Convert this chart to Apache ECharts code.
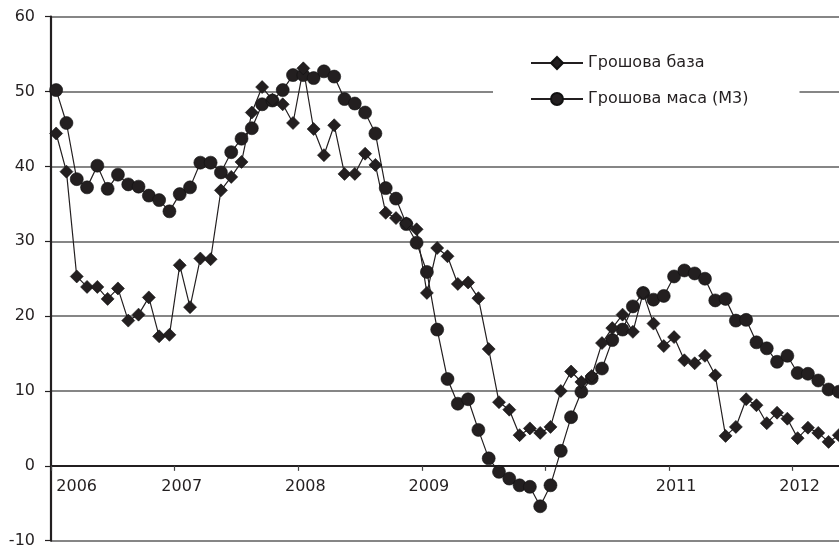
<!DOCTYPE html>
<html>
<head>
<meta charset="utf-8">
<script src="https://cdn.jsdelivr.net/npm/echarts@6/dist/echarts.min.js"></script>
<style>
  html, body { margin: 0; padding: 0; background: #ffffff; }
  #chart { width: 839px; height: 547px; }
</style>
</head>
<body>
<div id="chart"></div>
<script>
// Monthly growth rates, % year on year, January 2006 onwards
const years = [2006, 2007, 2008, 2009, 2010, 2011, 2012];
const yearLabels = ['2006', '2007', '2008', '2009', '', '2011', '2012'];
const seriesNames = ['Грошова база', 'Грошова маса (М3)'];

const monetaryBase = [
  44.4, 39.3, 25.3, 23.9, 23.9, 22.3, 23.7, 19.4, 20.2, 22.5, 17.3, 17.5,
  26.8, 21.2, 27.7, 27.6, 36.8, 38.6, 40.6, 47.2, 50.6, 48.9, 48.3, 45.8,
  53.1, 45.0, 41.5, 45.5, 39.0, 39.0, 41.7, 40.2, 33.8, 33.1, 32.4, 31.6,
  23.1, 29.1, 28.0, 24.3, 24.5, 22.4, 15.6, 8.5, 7.5, 4.1, 5.0, 4.4,
  5.2, 10.0, 12.6, 11.2, 12.0, 16.4, 18.4, 20.2, 17.9, 23.1, 19.0, 16.0,
  17.2, 14.1, 13.7, 14.7, 12.1, 4.0, 5.2, 8.9, 8.1, 5.7, 7.1, 6.3,
  3.7, 5.1, 4.4, 3.2, 4.1
];

const moneySupplyM3 = [
  50.2, 45.8, 38.3, 37.2, 40.1, 37.0, 38.9, 37.6, 37.3, 36.1, 35.5, 34.0,
  36.3, 37.2, 40.5, 40.5, 39.2, 41.9, 43.7, 45.1, 48.3, 48.8, 50.2, 52.2,
  52.2, 51.8, 52.7, 52.0, 49.0, 48.4, 47.2, 44.4, 37.1, 35.7, 32.3, 29.8,
  25.9, 18.2, 11.6, 8.3, 8.9, 4.8, 1.0, -0.8, -1.7, -2.6, -2.8, -5.4,
  -2.6, 2.0, 6.5, 9.9, 11.7, 13.0, 16.8, 18.2, 21.3, 23.1, 22.2, 22.7,
  25.3, 26.1, 25.7, 25.0, 22.1, 22.3, 19.4, 19.5, 16.5, 15.7, 13.9, 14.7,
  12.4, 12.3, 11.4, 10.2, 9.9
];

const months = [];
years.forEach(function (y) {
  for (let m = 1; m <= 12; m++) months.push(y + '-' + String(m).padStart(2, '0'));
});
const categories = months.slice(0, moneySupplyM3.length);

const ink = '#231f20';
const gridGray = '#5e5e5e';
const font = 'DejaVu Sans';

// plot frame: -10..60 over 524 px, so the zero line sits 75 px above the bottom edge
const gridTop = 16.7;
const gridBottom = 6.3;
const yMin = -10, yMax = 60;
const plotHeight = 547 - gridTop - gridBottom;
const zeroOffset = -plotHeight * (0 - yMin) / (yMax - yMin);

const chart = echarts.init(document.getElementById('chart'), null, { renderer: 'canvas' });

chart.setOption({
  animation: false,
  backgroundColor: '#ffffff',
  textStyle: { fontFamily: font, color: ink },
  grid: {
    left: 51, right: -5, top: gridTop, bottom: gridBottom,
    containLabel: false,
    outerBoundsMode: 'none'
  },
  legend: {
    orient: 'vertical',
    left: 493,
    top: 40,
    padding: [15, 51, 15, 37],
    backgroundColor: '#ffffff',
    itemWidth: 52,
    itemHeight: 15,
    itemGap: 20,
    textStyle: { fontFamily: font, fontSize: 16, color: ink },
    data: seriesNames
  },
  xAxis: {
    type: 'category',
    data: categories,
    boundaryGap: true,
    position: 'bottom',
    offset: zeroOffset,
    axisLine: { onZero: false, lineStyle: { color: ink, width: 2.2 } },
    axisTick: { show: true, interval: 11, alignWithLabel: false, length: 5, inside: false, lineStyle: { color: '#444', width: 1.2 } },
    axisLabel: {
      interval: 11,
      margin: 13,
      formatter: function (value) {
        const idx = years.indexOf(parseInt(value.slice(0, 4), 10));
        const label = yearLabels[idx];
        if (!label) return '';
        return idx === 0 ? '{first|' + label + '}' : '{yr|' + label + '}';
      },
      rich: {
        first: { fontFamily: font, fontSize: 16, color: ink, padding: [0, 0, 0, 41] },
        yr: { fontFamily: font, fontSize: 16, color: ink, padding: [0, 0, 0, 4] }
      }
    },
    splitLine: { show: false }
  },
  yAxis: {
    type: 'value',
    min: yMin,
    max: yMax,
    interval: 10,
    axisLine: { show: true, onZero: false, lineStyle: { color: ink, width: 2.2 } },
    axisTick: { show: true, length: 6, inside: false, lineStyle: { color: ink, width: 1.2 } },
    axisLabel: { fontFamily: font, fontSize: 16, color: ink, margin: 16 },
    splitLine: { show: true, showMinLine: true, showMaxLine: true, lineStyle: { color: gridGray, width: 1.5 } }
  },
  series: [
    {
      name: seriesNames[1],
      type: 'line',
      data: moneySupplyM3,
      symbol: 'circle',
      symbolSize: 13,
      showAllSymbol: true,
      lineStyle: { color: ink, width: 1.2 },
      itemStyle: { color: ink, borderColor: '#111', borderWidth: 0.6 },
      z: 3
    },
    {
      name: seriesNames[0],
      type: 'line',
      data: monetaryBase,
      symbol: 'diamond',
      symbolSize: 13,
      showAllSymbol: true,
      lineStyle: { color: ink, width: 1.2 },
      itemStyle: { color: ink, borderColor: '#111', borderWidth: 0.6 },
      z: 4
    }
  ]
});
</script>
</body>
</html>
